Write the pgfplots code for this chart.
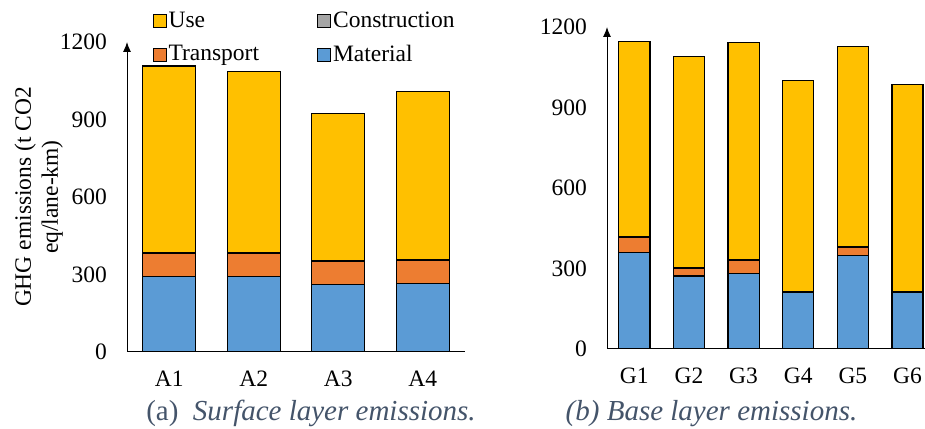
\documentclass[border=0pt]{standalone}
\usepackage{fontspec}
\setmainfont{Liberation Serif}
\usepackage{pgfplots}
\usepackage{pgfplotstable}
\pgfplotsset{compat=1.18}
\usetikzlibrary{arrows.meta}
\definecolor{cUse}{HTML}{FFC000}
\definecolor{cCon}{HTML}{A5A5A5}
\definecolor{cTra}{HTML}{ED7D31}
\definecolor{cMat}{HTML}{5B9BD5}
\definecolor{cCap}{HTML}{44546A}

\pgfplotstableread{
x mat tra con use
1 291 91 2 723
2 291 91 2 701
3 262 88 5 569
4 266 87 5 650
}\surf
\pgfplotstableread{
x mat tra con use
1 360 56 2 727
2 272 29 2 786
3 280 52 2 808
4 211 0 2 788
5 347 32 2 745
6 211 0 2 774
}\base

\newcommand{\fs}{\fontsize{23.5}{27}\selectfont}

\pgfplotsset{
  myaxis/.style={
    scale only axis, ybar stacked,
    ymin=0, ymax=1200, ytick={0,300,600,900,1200},
    enlargelimits=false,
    axis x line=bottom, axis y line=left,
    x axis line style={-, line width=1pt},
    y axis line style={-{Latex[length=10pt,width=8pt]}, line width=1pt},
    major tick length=0pt,
    /pgf/number format/assume math mode=true,
    /pgf/number format/1000 sep={},
    tick label style={font=\fs},
    yticklabel style={xshift=-12pt},
    xticklabel style={yshift=-11pt},
    xtick=data,
    every axis plot/.append style={draw=black, line width=1.2pt},
  },
  sq/.style={legend image code/.code={\draw[##1,draw=black,line width=1pt] (0pt,-6.5pt) rectangle (13pt,6.5pt);}},
}

\begin{document}
\fs
\begin{tikzpicture}
\useasboundingbox (0pt,0pt) rectangle (925pt,428pt);
\begin{axis}[myaxis,
  at={(127pt,76pt)}, anchor=south west,
  width=338pt, height=310pt,
  xmin=0.5, xmax=4.5, bar width=0.63,
  xticklabels={A1,A2,A3,A4},
  ylabel={GHG emissions (t CO2\\eq/lane-km)},
  ylabel style={align=center, font=\fs, at={(axis description cs:-0.189,0.5)}, anchor=south, inner sep=0pt},
  legend columns=2, reverse legend,
  legend style={draw=none, fill=none, inner sep=0pt,
    at={(0.075,1.105)}, anchor=north west,
    font=\fs,
    row sep=10pt,
    /tikz/every even column/.append style={column sep=56pt}},
  legend cell align=left,
]
\addplot[fill=cMat, sq] table[x=x, y=mat] {\surf};
\addlegendentry{Material}
\addplot[fill=cTra, sq] table[x=x, y=tra] {\surf};
\addlegendentry{Transport}
\addplot[fill=cCon, sq] table[x=x, y=con] {\surf};
\addlegendentry{Construction}
\addplot[fill=cUse, sq] table[x=x, y=use] {\surf};
\addlegendentry{Use}
\end{axis}

\begin{axis}[myaxis,
  at={(607pt,79pt)}, anchor=south west,
  width=318pt, height=322pt,
  xmin=0.5, xmax=6.32, bar width=0.57,
  xticklabels={G1,G2,G3,G4,G5,G6},
]
\addplot[fill=cMat] table[x=x, y=mat] {\base};
\addplot[fill=cTra] table[x=x, y=tra] {\base};
\addplot[fill=cCon] table[x=x, y=con] {\base};
\addplot[fill=cUse] table[x=x, y=use] {\base};
\end{axis}

\node[text=cCap, anchor=base, font=\fontsize{29}{32}\selectfont, inner sep=0pt] at (311pt,8pt) {(a)\enspace\textit{Surface layer emissions.}};
\node[text=cCap, anchor=base, font=\fontsize{29}{32}\selectfont, inner sep=0pt] at (711.5pt,8pt) {\textit{(b) Base layer emissions.}};
\end{tikzpicture}
\end{document}
